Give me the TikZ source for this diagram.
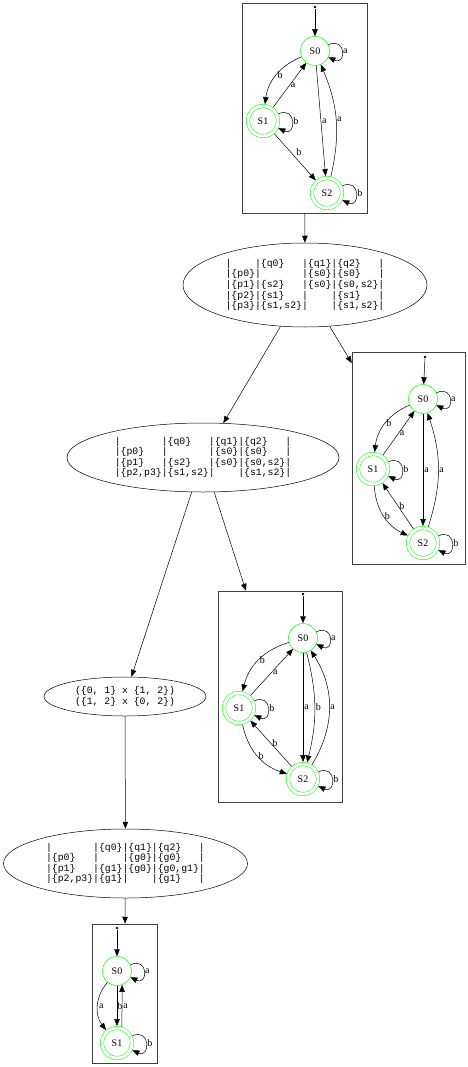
\documentclass[tikz,border=0pt]{standalone}
\usepackage{fontspec}
\setmainfont{Liberation Serif}
\newfontfamily\tblfont{Liberation Mono}
\usetikzlibrary{shapes.geometric,arrows.meta}

\begin{document}
\begin{tikzpicture}[x=1pt,y=-1pt,line width=0.5pt,
  >={Triangle[length=7pt,width=5.5pt]},
  state/.style={circle,draw=green,minimum size=29pt,inner sep=0pt,font=\fontsize{10}{12}\selectfont},
  accept/.style={state,double,double distance=3pt,minimum size=30pt,outer sep=2pt},
  start/.style={circle,fill,minimum size=2.6pt,inner sep=0pt},
  frame/.style={draw=black!75,inner sep=0pt},
  tbl/.style={ellipse,draw,inner sep=0pt,align=center,font=\tblfont\fontsize{9.8}{10.6}\selectfont},
  lbl/.style={font=\fontsize{10}{12}\selectfont,inner sep=1pt},
  selfloop/.style={out=25,in=-25,distance=20pt}]
\useasboundingbox (0,0) rectangle (467,1067);

% first automaton
\node[frame,minimum width=125pt,minimum height=210pt] (dfaA) at (304.5,108) {};
\node[start] (aI) at (315,7) {};
\node[state] (aS0) at (315,51) {S0};
\node[accept] (aS1) at (263,121) {S1};
\node[accept] (aS2) at (327,193) {S2};
\draw[->] (aI) -- (aS0);
\draw[->] (aS0) to[selfloop] node[lbl,right]{a} (aS0);
\draw[->] (aS0) to[bend right=30] node[lbl,right]{b} (aS1);
\draw[->] (aS1) -- node[lbl,right]{a} (aS0);
\draw[->] (aS0) -- node[lbl,right]{a} (aS2);
\draw[->] (aS2) to[bend right=18] node[lbl,right]{a} (aS0);
\draw[->] (aS1) to[selfloop] node[lbl,right]{b} (aS1);
\draw[->] (aS1) -- node[lbl,above right]{b} (aS2);
\draw[->] (aS2) to[selfloop] node[lbl,right]{b} (aS2);

\node[tbl,minimum width=244pt,minimum height=84pt] (e1) at (305,285)
  {|~~~~|\{q0\}~~~|\{q1\}|\{q2\}~~~|\\
   |\{p0\}|~~~~~~~|\{s0\}|\{s0\}~~~|\\
   |\{p1\}|\{s2\}~~~|\{s0\}|\{s0,s2\}|\\
   |\{p2\}|\{s1\}~~~|~~~~|\{s1\}~~~|\\
   |\{p3\}|\{s1,s2\}|~~~~|\{s1,s2\}|};

% second automaton
\node[frame,minimum width=113pt,minimum height=212pt] (dfaB) at (408.5,458) {};
\node[start] (bI) at (425,357) {};
\node[state] (bS0) at (423,399) {S0};
\node[accept] (bS1) at (373,469) {S1};
\node[accept] (bS2) at (423,543) {S2};
\draw[->] (bI) -- (bS0);
\draw[->] (bS0) to[selfloop] node[lbl,right]{a} (bS0);
\draw[->] (bS0) to[bend right=30] node[lbl,right]{b} (bS1);
\draw[->] (bS1) -- node[lbl,right]{a} (bS0);
\draw[->] (bS0) -- node[lbl,right]{a} (bS2);
\draw[->] (bS2) to[bend right=18] node[lbl,right]{a} (bS0);
\draw[->] (bS1) to[selfloop] node[lbl,right]{b} (bS1);
\draw[->] (bS1) to[bend right=30] node[lbl,right]{b} (bS2);
\draw[->] (bS2) -- node[lbl,right]{b} (bS1);
\draw[->] (bS2) to[selfloop] node[lbl,right]{b} (bS2);

\node[tbl,minimum width=272pt,minimum height=69pt] (e2) at (203,457.5)
  {|~~~~~~~|\{q0\}~~~|\{q1\}|\{q2\}~~~|\\
   |\{p0\}~~~|~~~~~~~|\{s0\}|\{s0\}~~~|\\
   |\{p1\}~~~|\{s2\}~~~|\{s0\}|\{s0,s2\}|\\
   |\{p2,p3\}|\{s1,s2\}|~~~~|\{s1,s2\}|};

% third automaton
\node[frame,minimum width=124pt,minimum height=211pt] (dfaC) at (280,696.5) {};
\node[start] (cI) at (303,594) {};
\node[state] (cS0) at (303,638) {S0};
\node[accept] (cS1) at (239,708) {S1};
\node[accept] (cS2) at (303,779) {S2};
\draw[->] (cI) -- (cS0);
\draw[->] (cS0) to[selfloop] node[lbl,right]{a} (cS0);
\draw[->] (cS0) to[bend right=30] node[lbl,right]{b} (cS1);
\draw[->] (cS1) -- node[lbl,right]{a} (cS0);
\draw[->] (cS0) -- node[lbl,right]{a} (cS2);
\draw[->] (cS0) to[bend left=14] node[lbl,right]{b} (cS2);
\draw[->] (cS2) to[bend right=32] node[lbl,right]{a} (cS0);
\draw[->] (cS1) to[selfloop] node[lbl,right]{b} (cS1);
\draw[->] (cS1) to[bend right=30] node[lbl,right]{b} (cS2);
\draw[->] (cS2) -- node[lbl,right]{b} (cS1);
\draw[->] (cS2) to[selfloop] node[lbl,right]{b} (cS2);

\node[tbl,minimum width=162pt,minimum height=39pt] (e3) at (125,696.5)
  {(\{0,~1\}~x~\{1,~2\})\\
   (\{1,~2\}~x~\{0,~2\})};

\node[tbl,minimum width=244pt,minimum height=69pt] (e4) at (125.5,863.5)
  {|~~~~~~~|\{q0\}|\{q1\}|\{q2\}~~~|\\
   |\{p0\}~~~|~~~~|\{g0\}|\{g0\}~~~|\\
   |\{p1\}~~~|\{g1\}|\{g0\}|\{g0,g1\}|\\
   |\{p2,p3\}|\{g1\}|~~~~|\{g1\}~~~|};

% fourth automaton
\node[frame,minimum width=65pt,minimum height=139pt] (dfaD) at (124.5,993.5) {};
\node[start] (dI) at (117,928) {};
\node[state] (dS0) at (117,971) {S0};
\node[accept] (dS1) at (117,1043) {S1};
\draw[->] (dI) -- (dS0);
\draw[->] (dS0) to[selfloop] node[lbl,right]{a} (dS0);
\draw[->] (dS0) to[bend right=40] node[lbl,right]{a} (dS1);
\draw[->] (dS0) -- node[lbl,right,inner sep=0pt]{b} (dS1);
\draw[->] (dS1.73) -- node[lbl,right]{a} (dS0.290);
\draw[->] (dS1) to[selfloop] node[lbl,right]{b} (dS1);

% steps
\draw[->] (dfaA) -- (e1);
\draw[->] (e1) -- (e2);
\draw[->] (e1) -- (dfaB);
\draw[->] (e2) -- (e3);
\draw[->] (e2) -- (dfaC);
\draw[->] (e3) -- (e4);
\draw[->] (e4) -- (dfaD);
\end{tikzpicture}
\end{document}
